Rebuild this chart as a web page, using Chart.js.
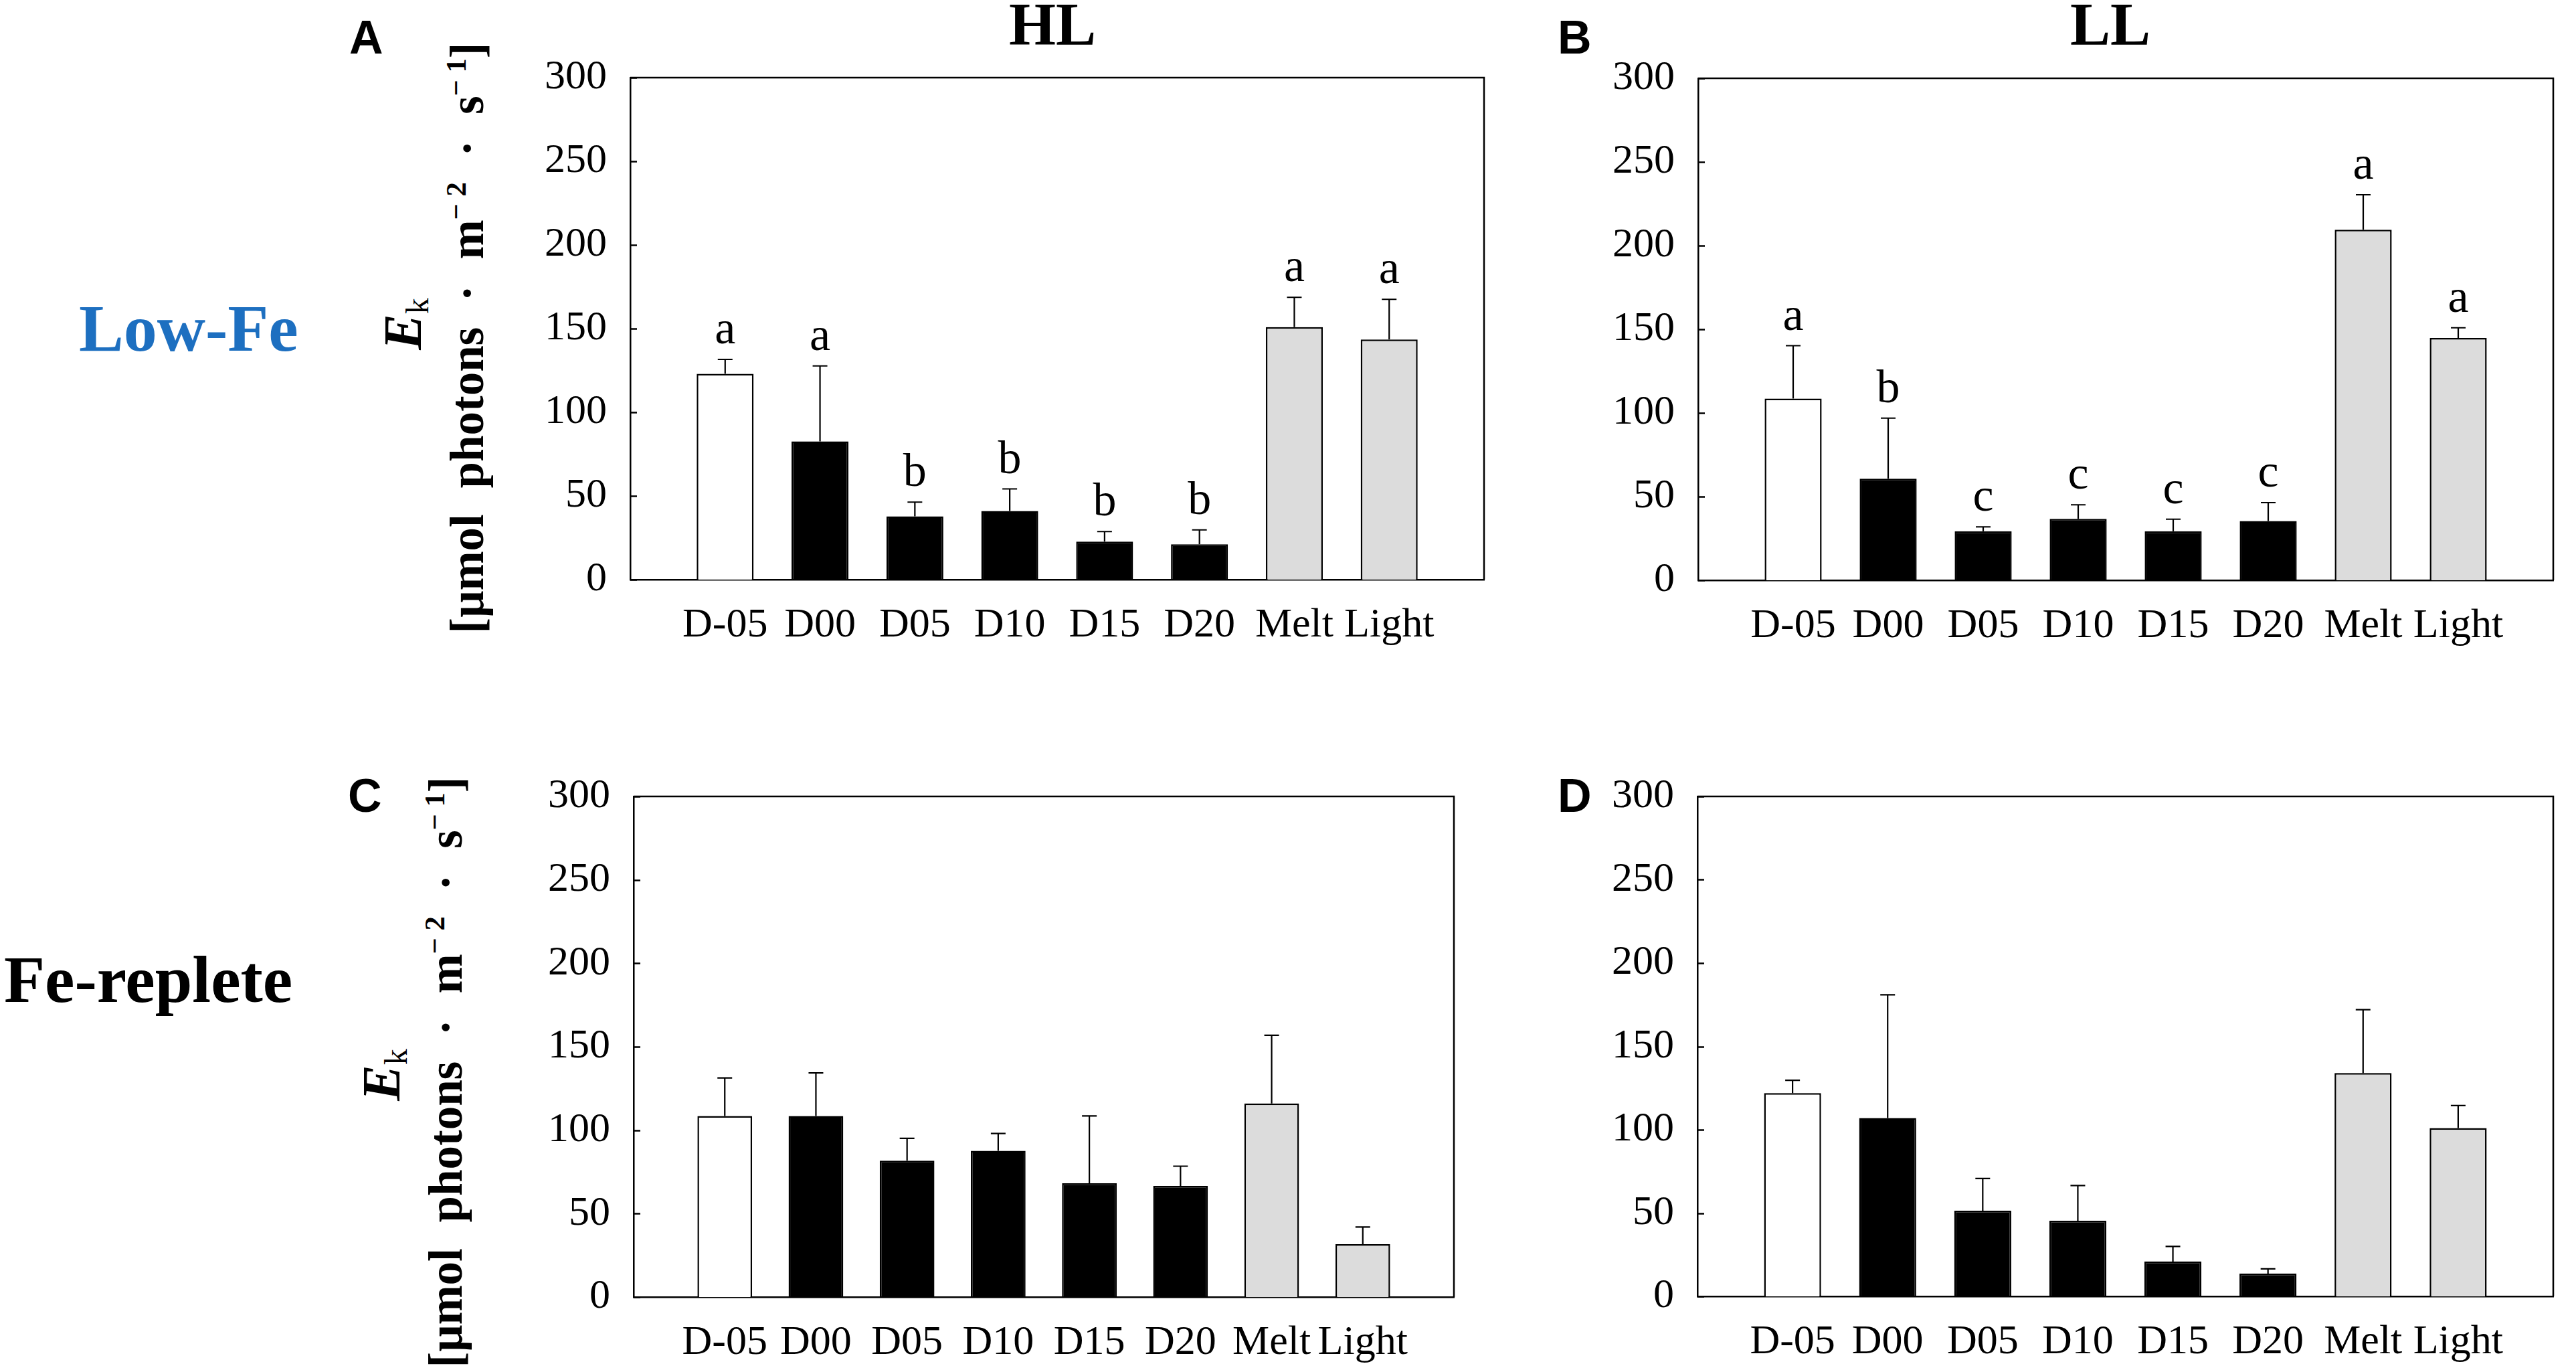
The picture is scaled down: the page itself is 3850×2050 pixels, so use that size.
<!DOCTYPE html>
<html>
<head>
<meta charset="utf-8">
<script src="https://cdn.jsdelivr.net/npm/chart.js@4.4.0/dist/chart.umd.min.js"></script>
<style>
html,body{margin:0;padding:0;background:#fff;}
body{width:3850px;height:2050px;position:relative;overflow:hidden;font-family:'Liberation Serif','Times New Roman',serif;color:#000;}
canvas.cv{position:absolute;}
.lbl{position:absolute;line-height:1;white-space:nowrap;}
.panel{font-family:'Liberation Sans',Arial,sans-serif;font-weight:bold;font-size:70px;}
.coltitle{font-family:'Liberation Serif','Times New Roman',serif;font-weight:bold;font-size:90px;}
.rowlab{font-family:'Liberation Serif','Times New Roman',serif;font-weight:bold;font-size:100px;}
.ywrap{position:absolute;width:0;height:0;}
.rot{position:absolute;left:0;top:0;transform:translate(-50%,-50%) rotate(-90deg);white-space:nowrap;text-align:center;font-family:'Liberation Serif','Times New Roman',serif;font-weight:bold;line-height:1;}
.ek{font-size:80px;}
.unit{font-size:71px;word-spacing:21px;}
.rot sub{font-size:0.6em;font-style:normal;font-weight:normal;vertical-align:-0.22em;line-height:0;}
.rot sup{font-size:0.6em;vertical-align:0.6em;line-height:0;word-spacing:0;}
</style>
</head>
<body>

<div class="lbl panel" style="left:522px;top:21px;">A</div>
<div class="lbl panel" style="left:2328px;top:21px;">B</div>
<div class="lbl panel" style="left:520px;top:1154px;">C</div>
<div class="lbl panel" style="left:2328px;top:1154px;">D</div>

<div class="lbl coltitle" style="left:1508px;top:-8px;">HL</div>
<div class="lbl coltitle" style="left:3094px;top:-8px;">LL</div>

<div class="lbl rowlab" style="left:118px;top:441px;color:#1d6fc0;">Low-Fe</div>
<div class="lbl rowlab" style="left:6px;top:1414px;">Fe-replete</div>

<!-- y-axis titles, panel A -->
<div class="ywrap" style="left:602px;top:484px;"><div class="rot ek"><i>E</i><sub>k</sub></div></div>
<div class="ywrap" style="left:698px;top:505px;"><div class="rot unit">[μmol photons · m<sup>− 2</sup> · s<sup>− 1</sup>]</div></div>
<!-- y-axis titles, panel C -->
<div class="ywrap" style="left:570px;top:1606px;"><div class="rot ek"><i>E</i><sub>k</sub></div></div>
<div class="ywrap" style="left:666px;top:1602px;"><div class="rot unit">[μmol photons · m<sup>− 2</sup> · s<sup>− 1</sup>]</div></div>

<canvas id="cA" class="cv"></canvas>
<canvas id="cB" class="cv"></canvas>
<canvas id="cC" class="cv"></canvas>
<canvas id="cD" class="cv"></canvas>

<script>
// ---------------- DATA ----------------
const categories = ['D-05', 'D00', 'D05', 'D10', 'D15', 'D20', 'Melt', 'Light'];
const yTicks = [0, 50, 100, 150, 200, 250, 300];

// Panel A: Low-Fe, HL
const meanA = [123.0, 82.6, 37.8, 41.0, 22.7, 21.1, 150.9, 143.5];
const sdA   = [8.6, 45.1, 8.5, 13.2, 6.0, 8.6, 17.8, 24.0];
const lettersA = ['a', 'a', 'b', 'b', 'b', 'b', 'a', 'a'];

// Panel B: Low-Fe, LL
const meanB = [108.6, 60.7, 29.3, 36.7, 29.3, 35.4, 209.5, 144.8];
const sdB   = [31.6, 36.2, 2.6, 8.4, 7.2, 11.0, 20.9, 6.1];
const lettersB = ['a', 'b', 'c', 'c', 'c', 'c', 'a', 'a'];

// Panel C: Fe-replete, HL
const meanC = [108.5, 108.5, 81.7, 87.6, 68.2, 66.6, 116.0, 31.7];
const sdC   = [22.8, 25.8, 13.4, 10.4, 40.3, 11.8, 40.9, 10.3];
const lettersC = [];

// Panel D: Fe-replete, LL
const meanD = [122.0, 107.0, 51.4, 45.4, 20.9, 13.7, 134.0, 101.0];
const sdD   = [7.7, 74.0, 19.3, 21.1, 9.1, 2.8, 38.0, 13.5];
const lettersD = [];

// ---------------- STYLE / LAYOUT ----------------
const barFills = ['#ffffff', '#000000', '#000000', '#000000', '#000000', '#000000', '#dcdcdc', '#dcdcdc'];
const frames = {
  cA: {left: 942,  top: 116,  right: 2242, bottom: 866},
  cB: {left: 2538, top: 117,  right: 3840, bottom: 867},
  cC: {left: 947,  top: 1190, right: 2197, bottom: 1938},
  cD: {left: 2537, top: 1190, right: 3840, bottom: 1937}
};
const YW = 200, TP = 90, RP = 8, XH = 110;
const LINE = 2.5;
const LETTER_GAP = 24;
const tickFont = {family: "'Liberation Serif', 'Times New Roman', serif", size: 62};

const decorPlugin = {
  id: 'decor',
  afterDatasetsDraw(chart, args, opts) {
    const ctx = chart.ctx;
    const area = chart.chartArea;
    const ys = chart.scales.y;
    const meta = chart.getDatasetMeta(0);
    ctx.save();
    ctx.strokeStyle = '#000';
    ctx.lineWidth = LINE;
    // top & right frame
    ctx.beginPath();
    ctx.moveTo(area.left, area.top);
    ctx.lineTo(area.right, area.top);
    ctx.lineTo(area.right, area.bottom);
    ctx.stroke();
    // inward y ticks
    yTicks.forEach(v => {
      const py = Math.round(ys.getPixelForValue(v)) + 0.5;
      ctx.beginPath();
      ctx.moveTo(area.left, py);
      ctx.lineTo(area.left + 10, py);
      ctx.stroke();
    });
    // error bars and significance letters
    const sd = opts.sd, means = opts.means, letters = opts.letters || [];
    ctx.font = "70px 'Liberation Serif', 'Times New Roman', serif";
    ctx.textAlign = 'center';
    ctx.textBaseline = 'alphabetic';
    ctx.fillStyle = '#000';
    means.forEach((m, i) => {
      const el = meta.data[i + 1];
      if (!el) return;
      const topPx = ys.getPixelForValue(m);
      const errPx = ys.getPixelForValue(m + sd[i]);
      ctx.lineWidth = 2.2;
      ctx.beginPath();
      ctx.moveTo(el.x, topPx);
      ctx.lineTo(el.x, errPx);
      ctx.moveTo(el.x - 11, errPx);
      ctx.lineTo(el.x + 11, errPx);
      ctx.stroke();
      if (letters[i]) {
        ctx.fillText(letters[i], el.x, errPx - LETTER_GAP);
      }
    });
    ctx.restore();
  }
};

function makePanel(id, means, sd, letters) {
  const f = frames[id];
  const cv = document.getElementById(id);
  const w = (f.right - f.left) + YW + RP;
  const h = (f.bottom - f.top) + TP + XH;
  cv.width = w; cv.height = h;
  cv.style.width = w + 'px'; cv.style.height = h + 'px';
  cv.style.left = (f.left - YW) + 'px';
  cv.style.top = (f.top - TP) + 'px';
  new Chart(cv, {
    type: 'bar',
    data: {
      labels: [''].concat(categories, ['']),
      datasets: [{
        data: [null].concat(means, [null]),
        backgroundColor: ['rgba(0,0,0,0)'].concat(barFills, ['rgba(0,0,0,0)']),
        borderColor: '#000',
        borderWidth: LINE,
        borderSkipped: 'bottom',
        categoryPercentage: 1.0,
        barPercentage: 0.6
      }]
    },
    options: {
      responsive: false,
      animation: false,
      devicePixelRatio: 1,
      layout: {padding: {top: TP, right: RP, left: 0, bottom: 0}},
      plugins: {
        legend: {display: false},
        tooltip: {enabled: false},
        title: {display: false},
        decor: {means: means, sd: sd, letters: letters}
      },
      scales: {
        x: {
          type: 'category',
          offset: false,
          grid: {display: false, drawTicks: false},
          border: {display: true, color: '#000', width: LINE},
          ticks: {autoSkip: false, maxRotation: 0, minRotation: 0, padding: 32, color: '#000', font: tickFont},
          afterFit(s) { s.height = XH; }
        },
        y: {
          min: yTicks[0],
          max: yTicks[yTicks.length - 1],
          grid: {display: false, drawTicks: false},
          border: {display: true, color: '#000', width: LINE},
          ticks: {stepSize: yTicks[1] - yTicks[0], padding: 35, color: '#000', font: tickFont},
          afterFit(s) { s.width = YW; }
        }
      }
    },
    plugins: [decorPlugin]
  });
}

makePanel('cA', meanA, sdA, lettersA);
makePanel('cB', meanB, sdB, lettersB);
makePanel('cC', meanC, sdC, lettersC);
makePanel('cD', meanD, sdD, lettersD);
</script>
</body>
</html>
